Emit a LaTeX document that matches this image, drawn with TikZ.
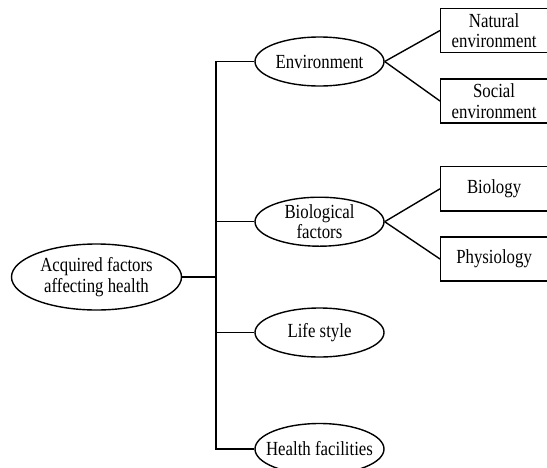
\documentclass[tikz,border=0pt]{standalone}
\usepackage{fontspec}
\setmainfont{Liberation Serif}[FakeStretch=0.84]
\usetikzlibrary{shapes.geometric}
\begin{document}
\begin{tikzpicture}[x=1pt,y=-1pt,
  txt/.style={font=\fontsize{20}{20.5}\selectfont, align=center, inner sep=0pt},
  ell/.style={draw, ellipse, line width=1.4pt, inner sep=0pt, minimum width=129pt, minimum height=49pt},
  box/.style={txt, draw, rectangle, line width=1.4pt, inner sep=0pt, minimum width=106.8pt, minimum height=44.2pt},
  conn/.style={line width=1.4pt}]
\useasboundingbox (0,0) rectangle (547,467);
\clip (0,0) rectangle (547,467);
\node[ell, minimum width=170pt, minimum height=66pt, label={[txt]center:Acquired factors\\affecting health}] (root) at (96.5,277) {};
\node[ell, label={[txt]center:Environment}] (env) at (319.5,61.5) {};
\node[ell, label={[txt]center:Biological\\factors}] (bio) at (319.5,221.7) {};
\node[ell, label={[txt]center:Life style}] (life) at (319.5,332.5) {};
\node[ell, minimum height=51pt, label={[txt]center:Health facilities}] (hf) at (319.5,449) {};
\node[box] (nat) at (494.1,30.5) {Natural\\environment};
\node[box] (soc) at (494.1,101) {Social\\environment};
\node[box] (biol) at (494.1,188.8) {Biology};
\node[box] (phys) at (494.1,259) {Physiology};
\coordinate (trunk) at (216,277);
\draw[conn] (root.east) -- (trunk);
\draw[conn] (env.west) -| (trunk);
\draw[conn] (bio.west) -| (trunk);
\draw[conn] (life.west) -| (trunk);
\draw[conn] (hf.west) -| (trunk);
\draw[conn] (env.east) -- (nat.west);
\draw[conn] (env.east) -- (soc.west);
\draw[conn] (bio.east) -- (biol.west);
\draw[conn] (bio.east) -- (phys.west);
\end{tikzpicture}
\end{document}
